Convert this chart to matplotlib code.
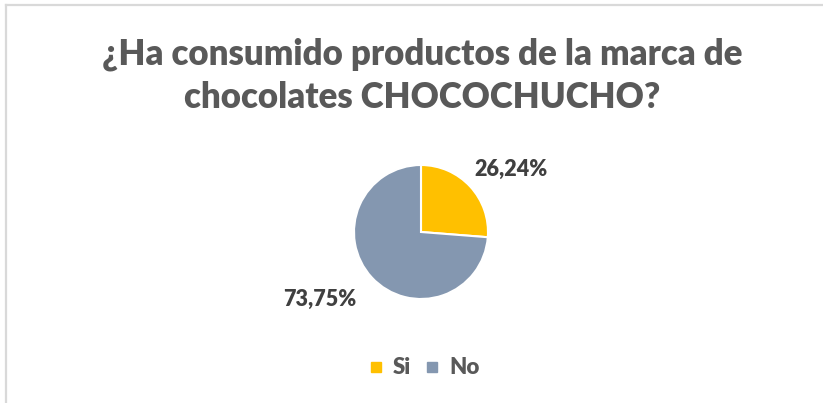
import matplotlib.pyplot as plt
from matplotlib.lines import Line2D

plt.rcParams['font.family'] = ['Lato', 'DejaVu Sans']

categorias = ['Si', 'No']
porcentajes = [26.24, 73.75]
colores = ['#FFC000', '#8497B0']
titulo = '¿Ha consumido productos de la marca de\nchocolates CHOCOCHUCHO?'
# posicion de cada etiqueta de dato, en radios desde el centro
pos_etiquetas = [(1.34, 0.93), (-1.51, -1.01)]

fig = plt.figure(figsize=(8.23, 4.03), dpi=100)
fig.patch.set_facecolor('white')

# borde del grafico (solo se ve arriba y a la izquierda)
fig.add_artist(Line2D([6 / 823, 6 / 823], [0, 1 - 5 / 403], color='#D9D9D9', lw=1.6))
fig.add_artist(Line2D([6 / 823, 1], [1 - 5 / 403, 1 - 5 / 403], color='#D9D9D9', lw=1.6))

fig.text(0.513, 1 - 76 / 403, titulo, ha='center', va='center', fontsize=25,
         fontweight='heavy', color='#595959', linespacing=1.38)

radio_px = 67
ax = fig.add_axes([(421 - radio_px) / 823, 1 - (232 + radio_px) / 403,
                   2 * radio_px / 823, 2 * radio_px / 403])
wedges, _ = ax.pie(porcentajes, colors=colores, startangle=90, counterclock=False,
                   wedgeprops=dict(edgecolor='white', linewidth=1.5))
for p, (x, y) in zip(porcentajes, pos_etiquetas):
    ax.text(x, y, f'{p:.2f}%'.replace('.', ','), ha='center', va='center',
            fontsize=15.5, fontweight='heavy', color='#404040')
ax.set_xlim(-1, 1)
ax.set_ylim(-1, 1)
ax.set_aspect('equal')
ax.axis('off')

handles = [Line2D([], [], marker='s', linestyle='', markersize=7, color=c) for c in colores]
leg = fig.legend(handles, categorias, loc='center', bbox_to_anchor=(424 / 823, 1 - 368 / 403),
                 ncol=2, frameon=False, handletextpad=0.4, columnspacing=0.6,
                 handlelength=0.7, prop=dict(size=16, weight='heavy'))
for t in leg.get_texts():
    t.set_color('#595959')

fig.savefig('out.png', dpi=100)
